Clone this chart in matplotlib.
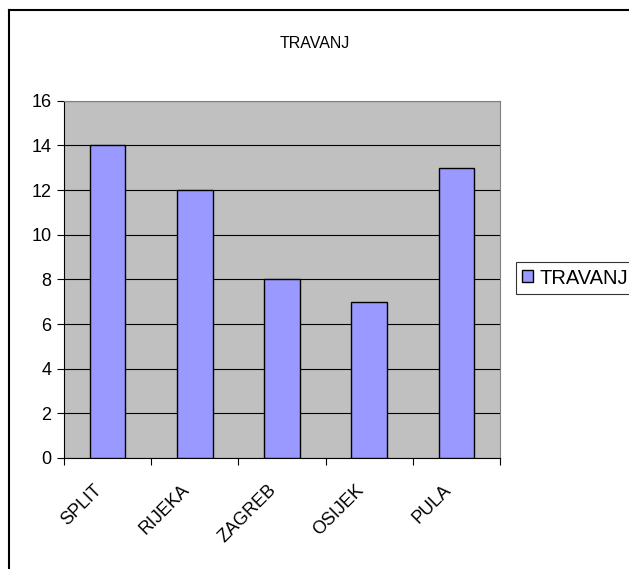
import matplotlib
matplotlib.use("Agg")
import matplotlib.pyplot as plt
from matplotlib.lines import Line2D
from matplotlib.transforms import ScaledTranslation

plt.rcParams['font.family'] = ['Liberation Sans', 'DejaVu Sans']

cities = ['SPLIT', 'RIJEKA', 'ZAGREB', 'OSIJEK', 'PULA']
travanj = [14, 12, 8, 7, 13]
y_ticks = [0, 2, 4, 6, 8, 10, 12, 14, 16]

W, H = 629, 569
fig = plt.figure(figsize=(W / 100, H / 100), dpi=100)
fig.patch.set_facecolor('white')

# outer chart border (only left and top are visible in the crop)
fig.add_artist(Line2D([8.5 / W, 8.5 / W], [0, 1 - 9.5 / H], color='black', lw=1.5))
fig.add_artist(Line2D([8.5 / W, 1], [1 - 9.5 / H, 1 - 9.5 / H], color='black', lw=1.5))

ax = fig.add_axes([64 / W, 1 - 458 / H, 436 / W, 357.3 / H])
ax.set_facecolor('#C0C0C0')

x = list(range(len(cities)))
ax.bar(x, travanj, width=0.41, color='#9999FF', edgecolor='black', linewidth=1.0,
       label='TRAVANJ', zorder=3)

ax.set_xlim(-0.5, len(cities) - 0.5)
ax.set_ylim(0, 16)
ax.set_yticks(y_ticks)
ax.yaxis.grid(True, color='black', linewidth=0.8, zorder=1)
ax.set_axisbelow(True)

# category separators as ticks, names on minor ticks
ax.set_xticks([i - 0.5 for i in range(len(cities) + 1)])
ax.set_xticklabels([])
ax.set_xticks(x, minor=True)
ax.set_xticklabels(cities, minor=True, rotation=45, ha='right', va='top',
                   rotation_mode='anchor', fontsize=13)
ax.tick_params(axis='x', which='minor', length=0, pad=17)
ax.tick_params(axis='x', which='major', length=5, width=0.8, direction='out')
ax.tick_params(axis='y', length=5, width=0.8, direction='out', labelsize=13, pad=4)
shift = ScaledTranslation(-0.14, 0, fig.dpi_scale_trans)
for lbl in ax.get_xticklabels(minor=True):
    lbl.set_transform(lbl.get_transform() + shift)

for s in ['top', 'right']:
    ax.spines[s].set_color('#808080')
    ax.spines[s].set_linewidth(0.8)
for s in ['left', 'bottom']:
    ax.spines[s].set_color('black')
    ax.spines[s].set_linewidth(0.8)

fig.text(315 / W, 1 - 43 / H, 'TRAVANJ', ha='center', va='center', fontsize=11.5)

leg = fig.legend(loc='center left', bbox_to_anchor=(516 / W, 1 - 278 / H),
                 fontsize=14.5, frameon=True, fancybox=False, borderpad=0.3,
                 handlelength=0.55, handleheight=0.55, handletextpad=0.3,
                 borderaxespad=0)
leg.get_frame().set_edgecolor('black')
leg.get_frame().set_linewidth(0.8)

fig.savefig('out.png', dpi=100)
